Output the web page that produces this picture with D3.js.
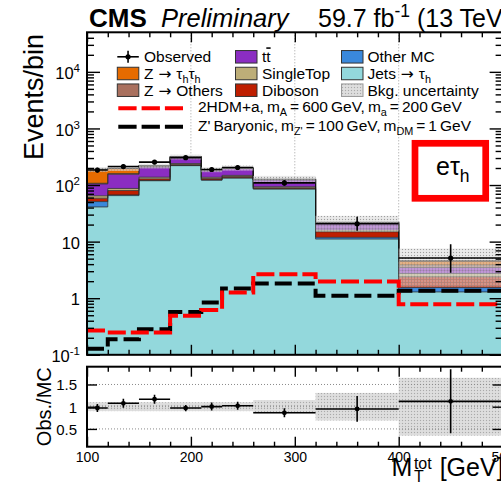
<!DOCTYPE html>
<html>
<head>
<meta charset="utf-8">
<script src="https://cdn.jsdelivr.net/npm/d3@7"></script>
<style>
  html, body { margin: 0; padding: 0; background: #fff; }
  svg { display: block; font-family: "Liberation Sans", Arial, Helvetica, sans-serif; }
</style>
</head>
<body>
<svg id="chart" width="501" height="489"></svg>
<script>
// ---- binning and per-bin yields (events / bin) ----
const binEdges  = [100, 120, 150, 180, 210, 230, 260, 320, 400, 500];
const jetsTau   = [41, 65, 119, 220, 122, 133, 85, 11.1, 1.29];
const otherMC   = [10, 2, 1.5, 1.5, 1, 1, 0.8, 0.8, 0.26];
const diboson   = [7.5, 13, 8, 10, 7, 7, 3.5, 3.0, 0.83];
const singleTop = [6, 7, 9, 8, 7, 7, 4, 1.1, 0.36];
const ttbar     = [40, 68, 70, 68, 46, 48, 30, 5.0, 0.76];
const zOthers   = [3, 4, 4, 5, 3, 3, 2, 0.5, 0.34];
const zTauTau   = [82, 38, 6, 2, 1.5, 1, 1, 0.3, 0.73];

const observed    = [184, 212, 254, 305, 188, 204, 109, 20.7, 5.12];
const obsErrUp    = [17, 20, 22, 22, 17, 18, 14, 6.8, 3.9];
const obsErrDown  = [17, 20, 22, 22, 17, 18, 12, 5.2, 2.3];
const ratioErr    = [0.09, 0.1, 0.1, 0.07, 0.09, 0.09, 0.1, 0.29, 0.72];
const bkgRelUnc   = [0.1, 0.1, 0.1, 0.1, 0.1, 0.1, 0.15, 0.31, 0.65];

const sig2HDMa      = [0.27, 0.247, 0.247, 0.49, 0.62, 1.26, 2.66, 1.97, 0.78];
const sigZpBaryonic = [0.128, 0.188, 0.283, 0.57, 0.84, 1.48, 1.82, 1.1, 1.35];

const yMajorTicks  = [0.1, 1, 10, 100, 1000, 10000];
const xMajorTicks  = [100, 200, 300, 400, 500];
const xTickLabels  = ["100", "200", "300", "400", "500"];
const ratioTicks   = [0.5, 1, 1.5];
const ratioLabels  = ["0.5", "1", "1.5"];

// ---- layout ----
const X0 = 87, X1 = 502.6;
const YT = 32.3, YB = 354.8;     // main pad
const RT = 366.7, RB = 446.7;    // ratio pad

const svg = d3.select("#chart");
const x  = d3.scaleLinear().domain([100, 500]).range([X0, X1]);
const y  = d3.scaleLog().domain([0.1, 5e4]).range([YB, YT]);
const yr = d3.scaleLinear().domain([0.1, 1.9]).range([RB, RT]);

const nBins = binEdges.length - 1;
const centers = d3.range(nBins).map(i => (binEdges[i] + binEdges[i + 1]) / 2);

const defs = svg.append("defs");
defs.append("clipPath").attr("id", "clipMain")
  .append("rect").attr("x", X0).attr("y", YT).attr("width", X1 - X0).attr("height", YB - YT);
defs.append("clipPath").attr("id", "clipRatio")
  .append("rect").attr("x", X0).attr("y", RT).attr("width", X1 - X0).attr("height", RB - RT);

// dotted hatch used for the background uncertainty
const hatch = defs.append("pattern").attr("id", "uncHatch")
  .attr("width", 3).attr("height", 3).attr("patternUnits", "userSpaceOnUse");
hatch.append("rect").attr("width", 3).attr("height", 3).attr("fill", "rgba(205,205,205,0.55)");
hatch.append("rect").attr("width", 1).attr("height", 1).attr("fill", "rgba(140,140,140,0.8)");
hatch.append("rect").attr("x", 1.5).attr("y", 1.5).attr("width", 1).attr("height", 1).attr("fill", "rgba(255,255,255,0.7)");

const hatchR = defs.append("pattern").attr("id", "uncHatchRatio")
  .attr("width", 3).attr("height", 3).attr("patternUnits", "userSpaceOnUse");
hatchR.append("rect").attr("width", 3).attr("height", 3).attr("fill", "rgba(206,206,206,0.75)");
hatchR.append("rect").attr("width", 1).attr("height", 1).attr("fill", "rgba(165,165,165,0.9)");
hatchR.append("rect").attr("x", 1.5).attr("y", 1.5).attr("width", 1).attr("height", 1).attr("fill", "rgba(238,238,238,0.9)");

// ---- stack definition (bottom to top) ----
const components = [
  { key: "jets",   vals: jetsTau,   color: "#93d8dc" },
  { key: "other",  vals: otherMC,   color: "#3a88db" },
  { key: "vv",     vals: diboson,   color: "#be1e00" },
  { key: "st",     vals: singleTop, color: "#bdae78" },
  { key: "tt",     vals: ttbar,     color: "#8b2dc2" },
  { key: "zoth",   vals: zOthers,   color: "#a9705e" },
  { key: "ztt",    vals: zTauTau,   color: "#e66b00" }
];
let cum = new Array(nBins).fill(0);
components.forEach(c => {
  c.lo = cum.slice();
  c.hi = cum.map((v, i) => v + c.vals[i]);
  cum = c.hi;
});
const totalBkg = cum;

function stepPoints(lo, hi) {
  const pts = d3.range(nBins).map(i => ({ e: binEdges[i], lo: lo[i], hi: hi[i] }));
  pts.push({ e: binEdges[nBins], lo: lo[nBins - 1], hi: hi[nBins - 1] });
  return pts;
}
const floorVal = 0.02;

// ---- main pad ----
const main = svg.append("g");

// vertical dotted grid
main.selectAll("line.vgrid").data([200, 300, 400]).join("line")
  .attr("x1", d => x(d)).attr("x2", d => x(d)).attr("y1", YT).attr("y2", YB)
  .attr("stroke", "#a0a0a0").attr("stroke-width", 1).attr("stroke-dasharray", "1,2");

const plotArea = main.append("g").attr("clip-path", "url(#clipMain)");

const area = d3.area()
  .x(d => x(d.e))
  .y0(d => y(Math.max(d.lo, floorVal)))
  .y1(d => y(Math.max(d.hi, floorVal)))
  .curve(d3.curveStepAfter);
const topLine = d3.line()
  .x(d => x(d.e))
  .y(d => y(Math.max(d.hi, floorVal)))
  .curve(d3.curveStepAfter);

components.forEach(c => {
  const pts = stepPoints(c.lo, c.hi);
  plotArea.append("path").attr("d", area(pts)).attr("fill", c.color);
});
components.forEach(c => {
  const pts = stepPoints(c.lo, c.hi);
  plotArea.append("path").attr("d", topLine(pts)).attr("fill", "none")
    .attr("stroke", "#2a2a2a").attr("stroke-width", 0.9).attr("stroke-opacity", 0.85);
});
plotArea.append("path")
  .attr("d", topLine(stepPoints(totalBkg, totalBkg)))
  .attr("fill", "none").attr("stroke", "#111").attr("stroke-width", 1.2);

// background uncertainty band
plotArea.selectAll("rect.unc").data(d3.range(nBins)).join("rect")
  .attr("x", i => x(binEdges[i]))
  .attr("width", i => x(binEdges[i + 1]) - x(binEdges[i]))
  .attr("y", i => y(totalBkg[i] * (1 + bkgRelUnc[i])))
  .attr("height", i => y(totalBkg[i] * (1 - bkgRelUnc[i])) - y(totalBkg[i] * (1 + bkgRelUnc[i])))
  .attr("fill", "url(#uncHatch)");

// signal step lines
const sigLine = d3.line().x(d => x(d.e)).y(d => y(d.hi)).curve(d3.curveStepAfter);
plotArea.append("path").attr("d", sigLine(stepPoints(sigZpBaryonic, sigZpBaryonic)))
  .attr("fill", "none").attr("stroke", "#000").attr("stroke-width", 4)
  .attr("stroke-dasharray", "17,6");
plotArea.append("path").attr("d", sigLine(stepPoints(sig2HDMa, sig2HDMa)))
  .attr("fill", "none").attr("stroke", "#ff0000").attr("stroke-width", 4)
  .attr("stroke-dasharray", "18,5");

// observed data
const obsG = plotArea.append("g").attr("stroke", "#000").attr("stroke-width", 1.6);
obsG.selectAll("line.xe").data(d3.range(nBins)).join("line")
  .attr("x1", i => x(binEdges[i])).attr("x2", i => x(binEdges[i + 1]))
  .attr("y1", i => y(observed[i])).attr("y2", i => y(observed[i]));
obsG.selectAll("line.ye").data(d3.range(nBins)).join("line")
  .attr("x1", i => x(centers[i])).attr("x2", i => x(centers[i]))
  .attr("y1", i => y(observed[i] + obsErrUp[i])).attr("y2", i => y(observed[i] - obsErrDown[i]));
obsG.selectAll("circle").data(d3.range(nBins)).join("circle")
  .attr("cx", i => x(centers[i])).attr("cy", i => y(observed[i])).attr("r", 2.6)
  .attr("fill", "#000").attr("stroke", "none");

// ---- ratio pad ----
const ratio = svg.append("g");
const ratioArea = ratio.append("g").attr("clip-path", "url(#clipRatio)");
ratioArea.selectAll("rect.band").data(d3.range(nBins)).join("rect")
  .attr("x", i => x(binEdges[i]))
  .attr("width", i => x(binEdges[i + 1]) - x(binEdges[i]))
  .attr("y", i => yr(1 + bkgRelUnc[i]))
  .attr("height", i => yr(1 - bkgRelUnc[i]) - yr(1 + bkgRelUnc[i]))
  .attr("fill", "url(#uncHatchRatio)");
ratioArea.selectAll("line.hgrid").data(ratioTicks).join("line")
  .attr("x1", X0).attr("x2", X1).attr("y1", d => yr(d)).attr("y2", d => yr(d))
  .attr("stroke", "#8a8a8a").attr("stroke-width", 1).attr("stroke-dasharray", "1,2");
const ratioVals = observed.map((o, i) => o / totalBkg[i]);
const rG = ratioArea.append("g").attr("stroke", "#000").attr("stroke-width", 1.6);
rG.selectAll("line.xe").data(d3.range(nBins)).join("line")
  .attr("x1", i => x(binEdges[i])).attr("x2", i => x(binEdges[i + 1]))
  .attr("y1", i => yr(ratioVals[i])).attr("y2", i => yr(ratioVals[i]));
rG.selectAll("line.ye").data(d3.range(nBins)).join("line")
  .attr("x1", i => x(centers[i])).attr("x2", i => x(centers[i]))
  .attr("y1", i => yr(ratioVals[i] + ratioErr[i])).attr("y2", i => yr(ratioVals[i] - ratioErr[i]));
rG.selectAll("circle").data(d3.range(nBins)).join("circle")
  .attr("cx", i => x(centers[i])).attr("cy", i => yr(ratioVals[i])).attr("r", 2.4)
  .attr("fill", "#000").attr("stroke", "none");

// ---- axes (ticks pointing into the frames) ----
function drawAxis(axis, tx, ty) {
  const g = svg.append("g").attr("transform", `translate(${tx},${ty})`).call(axis);
  g.select(".domain").remove();
  g.selectAll(".tick line").attr("stroke", "#000").attr("stroke-width", 1.4);
  g.attr("font-family", null).attr("font-size", null);
  return g;
}
const yMinor = [];
for (let e = -1; e <= 4; e++) for (let k = 2; k <= 9; k++) {
  const v = k * Math.pow(10, e);
  if (v < 5e4) yMinor.push(v);
}
const xMinor = d3.range(120, 500, 20).filter(v => v % 100 !== 0);
const noLabel = () => "";

const yLeft = drawAxis(d3.axisLeft(y).tickValues(yMajorTicks).tickSize(-13).tickSizeOuter(0).tickFormat(noLabel), X0, 0);
drawAxis(d3.axisLeft(y).tickValues(yMinor).tickSize(-7).tickSizeOuter(0).tickFormat(noLabel), X0, 0);
drawAxis(d3.axisRight(y).tickValues(yMajorTicks).tickSize(-13).tickSizeOuter(0).tickFormat(noLabel), X1, 0);
drawAxis(d3.axisRight(y).tickValues(yMinor).tickSize(-7).tickSizeOuter(0).tickFormat(noLabel), X1, 0);
drawAxis(d3.axisBottom(x).tickValues(xMajorTicks).tickSize(-10).tickSizeOuter(0).tickFormat(noLabel), 0, YB);
drawAxis(d3.axisBottom(x).tickValues(xMinor).tickSize(-5).tickSizeOuter(0).tickFormat(noLabel), 0, YB);
drawAxis(d3.axisTop(x).tickValues(xMajorTicks).tickSize(-10).tickSizeOuter(0).tickFormat(noLabel), 0, YT);
drawAxis(d3.axisTop(x).tickValues(xMinor).tickSize(-5).tickSizeOuter(0).tickFormat(noLabel), 0, YT);

// log-axis labels with exponents
yLeft.selectAll(".tick text").each(function (d) {
  const t = d3.select(this).text(null)
    .attr("x", -7).attr("dy", "0.4em").attr("font-size", 16.5).attr("fill", "#000");
  const ex = Math.round(Math.log10(d));
  if (ex === 0) { t.append("tspan").text("1"); return; }
  if (ex === 1) { t.append("tspan").text("10"); return; }
  t.append("tspan").text("10");
  t.append("tspan").text(String(ex)).attr("dy", -7).attr("font-size", 11.5);
});

const rLeft = drawAxis(d3.axisLeft(yr).tickValues(ratioTicks).tickSize(-10).tickSizeOuter(0)
  .tickFormat((d, i) => ratioLabels[i]), X0, 0);
rLeft.selectAll(".tick text").attr("x", -10).attr("dy", "0.36em").attr("font-size", 15).attr("fill", "#000");
drawAxis(d3.axisRight(yr).tickValues(ratioTicks).tickSize(-10).tickSizeOuter(0).tickFormat(noLabel), X1, 0);
const rBottom = drawAxis(d3.axisBottom(x).tickValues(xMajorTicks).tickSize(-10).tickSizeOuter(0)
  .tickFormat((d, i) => xTickLabels[i]), 0, RB);
rBottom.selectAll(".tick text").attr("y", 5).attr("font-size", 14).attr("fill", "#000");
drawAxis(d3.axisBottom(x).tickValues(xMinor).tickSize(-5).tickSizeOuter(0).tickFormat(noLabel), 0, RB);
drawAxis(d3.axisTop(x).tickValues(xMajorTicks).tickSize(-10).tickSizeOuter(0).tickFormat(noLabel), 0, RT);
drawAxis(d3.axisTop(x).tickValues(xMinor).tickSize(-5).tickSizeOuter(0).tickFormat(noLabel), 0, RT);

// frames
svg.append("rect").attr("x", X0).attr("y", YT).attr("width", X1 - X0).attr("height", YB - YT)
  .attr("fill", "none").attr("stroke", "#000").attr("stroke-width", 2);
svg.append("rect").attr("x", X0).attr("y", RT).attr("width", X1 - X0).attr("height", RB - RT)
  .attr("fill", "none").attr("stroke", "#000").attr("stroke-width", 2);

// ---- rich text helper (sub/superscripts, arrows) ----
function rich(g, px, py, parts, size, anchor) {
  const t = g.append("text").attr("x", px).attr("y", py).attr("font-size", size)
    .attr("fill", "#000").attr("text-anchor", anchor || "start");
  let shift = 0;
  parts.forEach(p => {
    const s = t.append("tspan").text(p.t);
    const target = p.sub ? size * 0.27 : p.sup ? -size * 0.42 : 0;
    if (target !== shift) { s.attr("dy", target - shift); shift = target; }
    if (p.sub || p.sup) s.attr("font-size", size * 0.7);
    if (p.over) s.style("text-decoration", "overline");
    if (p.sym) s.attr("font-family", "DejaVu Sans");
  });
  return t;
}

// ---- titles ----
svg.append("text").attr("x", 89).attr("y", 27.3).attr("font-size", 26).attr("font-weight", "bold").text("CMS");
svg.append("text").attr("x", 161).attr("y", 27.3).attr("font-size", 25.5).attr("font-style", "italic").text("Preliminary");
rich(svg, 318, 27.3, [{ t: "59.7 fb" }, { t: "-1", sup: true }, { t: " (13 TeV)" }], 25);

svg.append("text").attr("transform", "translate(43,34) rotate(-90)")
  .attr("text-anchor", "end").attr("font-size", 27).text("Events/bin");
svg.append("text").attr("transform", `translate(51,${(RT + RB) / 2}) rotate(-90)`)
  .attr("text-anchor", "middle").attr("font-size", 20).text("Obs./MC");

// x-axis title M_T^tot [GeV]
{
  const g = svg.append("g");
  const gev = g.append("text").attr("x", X1 + 1).attr("y", 476).attr("font-size", 25)
    .attr("text-anchor", "end").text("[GeV]");
  const gx = X1 + 1 - gev.node().getComputedTextLength() - 8;
  const tot = g.append("text").attr("x", gx).attr("y", 469).attr("font-size", 16)
    .attr("text-anchor", "end").text("tot");
  const tw = tot.node().getComputedTextLength();
  g.append("text").attr("x", gx - tw).attr("y", 481.5).attr("font-size", 16).text("T");
  g.append("text").attr("x", gx - tw - 1.5).attr("y", 476).attr("font-size", 25)
    .attr("text-anchor", "end").text("M");
}

// channel label
svg.append("rect").attr("x", 415).attr("y", 143.3).attr("width", 70.7).attr("height", 55)
  .attr("fill", "#fff").attr("stroke", "#ff0000").attr("stroke-width", 6.7);
rich(svg, 436, 175, [{ t: "eτ" }, { t: "h", sub: true }], 25);

// ---- legend ----
const leg = svg.append("g");
const legFont = 15.5;
const rowsY = [62.3, 79, 95.7, 112.3, 130.7];
const colBoxX = [117.3, 235.5, 341.5];
const colTextX = [144, 262, 367.5];
const boxW = 21.5, boxH = 12.5;

// observed marker
{
  const cy = rowsY[0] - 5.5, cx = colBoxX[0] + boxW / 2;
  leg.append("line").attr("x1", colBoxX[0]).attr("x2", colBoxX[0] + boxW).attr("y1", cy).attr("y2", cy)
    .attr("stroke", "#000").attr("stroke-width", 1.6);
  leg.append("line").attr("x1", cx).attr("x2", cx).attr("y1", cy - 6).attr("y2", cy + 6)
    .attr("stroke", "#000").attr("stroke-width", 1.6);
  leg.append("circle").attr("cx", cx).attr("cy", cy).attr("r", 2.6).attr("fill", "#000");
  rich(leg, colTextX[0], rowsY[0], [{ t: "Observed" }], legFont);
}
const arrow = { t: " → ", sym: true };
const legendBoxes = [
  { col: 0, row: 1, fill: "#e66b00", parts: [{ t: "Z" }, arrow, { t: "τ" }, { t: "h", sub: true }, { t: "τ" }, { t: "h", sub: true }] },
  { col: 0, row: 2, fill: "#a9705e", parts: [{ t: "Z" }, arrow, { t: "Others" }] },
  { col: 1, row: 0, fill: "#8b2dc2", parts: [{ t: "t" }, { t: "t", over: true }] },
  { col: 1, row: 1, fill: "#bdae78", parts: [{ t: "SingleTop" }] },
  { col: 1, row: 2, fill: "#be1e00", parts: [{ t: "Diboson" }] },
  { col: 2, row: 0, fill: "#3a88db", parts: [{ t: "Other MC" }] },
  { col: 2, row: 1, fill: "#93d8dc", parts: [{ t: "Jets" }, arrow, { t: "τ" }, { t: "h", sub: true }] },
  { col: 2, row: 2, fill: "url(#uncHatchRatio)", stroke: "#999", parts: [{ t: "Bkg. uncertainty" }] }
];
legendBoxes.forEach(b => {
  leg.append("rect").attr("x", colBoxX[b.col]).attr("y", rowsY[b.row] - 5.5 - boxH / 2)
    .attr("width", boxW).attr("height", boxH).attr("fill", b.fill)
    .attr("stroke", b.stroke || "#333").attr("stroke-width", 1);
  rich(leg, colTextX[b.col], rowsY[b.row], b.parts, legFont);
});
// signal legend entries
[
  { row: 3, color: "#ff0000", parts: [{ t: "2HDM+a, m" }, { t: "A", sub: true }, { t: " = 600 GeV, m" }, { t: "a", sub: true }, { t: " = 200 GeV" }] },
  { row: 4, color: "#000", parts: [{ t: "Z' Baryonic, m" }, { t: "Z'", sub: true }, { t: " = 100 GeV, m" }, { t: "DM", sub: true }, { t: " = 1 GeV" }] }
].forEach(s => {
  const ly = rowsY[s.row] - 4;
  leg.append("line").attr("x1", 118.3).attr("x2", 183).attr("y1", ly).attr("y2", ly)
    .attr("stroke", s.color).attr("stroke-width", 4).attr("stroke-dasharray", "18.3,5");
  rich(leg, 198, rowsY[s.row], s.parts, legFont).style("word-spacing", "-1.3px");
});
</script>
</body>
</html>
